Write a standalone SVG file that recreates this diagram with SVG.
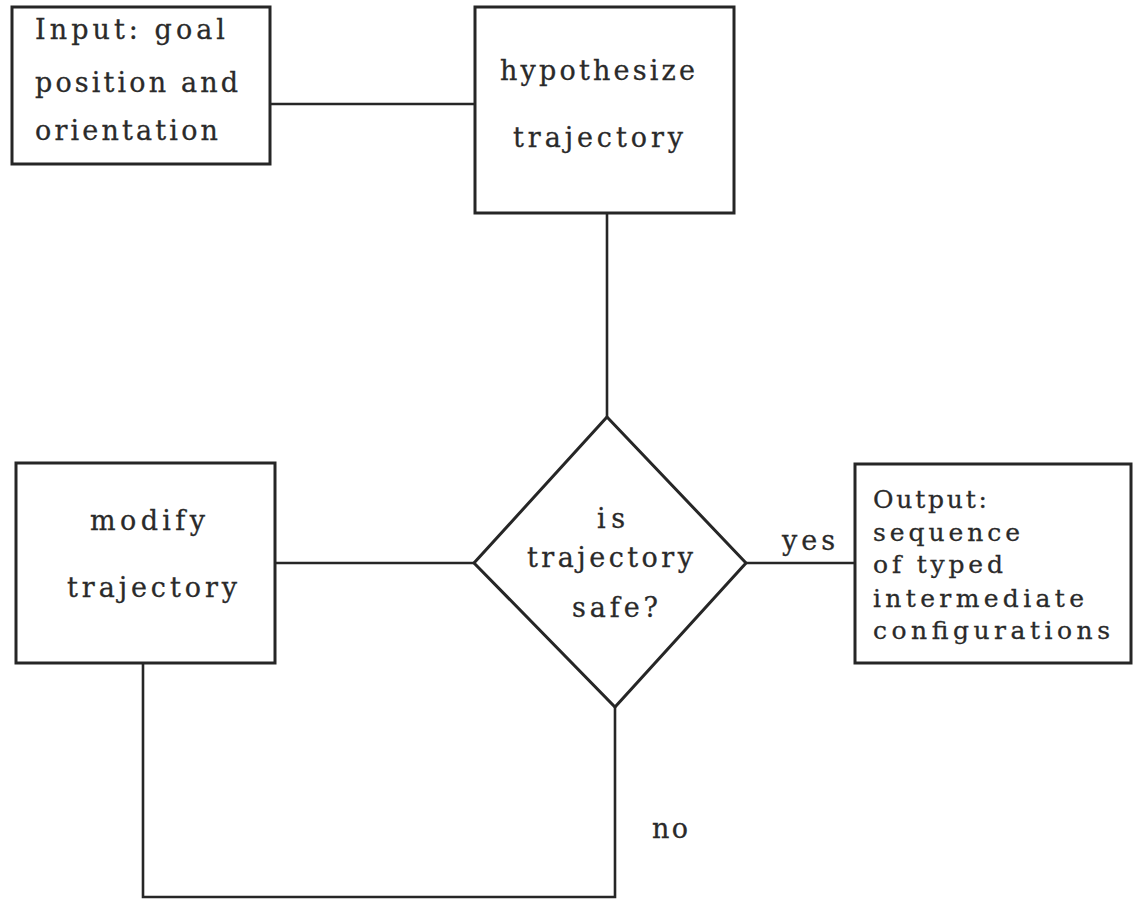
<svg xmlns="http://www.w3.org/2000/svg" width="1139" height="902" viewBox="0 0 1139 902">
<style>
.box{fill:none;stroke:#262626;stroke-width:3}
.ln{fill:none;stroke:#262626;stroke-width:2.6}
.t{font-family:"DejaVu Serif","Liberation Serif",serif;font-size:27px;fill:#2a2a2a;stroke:#2a2a2a;stroke-width:0.3}
.s{font-family:"DejaVu Serif","Liberation Serif",serif;font-size:25px;fill:#2a2a2a;stroke:#2a2a2a;stroke-width:0.3}
</style>
<rect width="1139" height="902" fill="#ffffff"/>
<g id="connectors">
<line class="ln" x1="270" y1="104" x2="475" y2="104"/>
<line class="ln" x1="607" y1="213" x2="607" y2="417"/>
<line class="ln" x1="474" y1="563" x2="275" y2="563"/>
<line class="ln" x1="746" y1="563" x2="855" y2="563"/>
<polyline class="ln" points="615,707 615,897 143,897 143,663"/>
<text class="t" x="782" y="550" textLength="53" lengthAdjust="spacing">yes</text>
<text class="t" x="652" y="838" textLength="36" lengthAdjust="spacing">no</text>
</g>
<g id="input">
<rect class="box" x="12" y="7" width="258" height="157"/>
<text class="t" x="35" y="39" textLength="190" lengthAdjust="spacing">Input:  goal</text>
<text class="t" x="35" y="92" textLength="203" lengthAdjust="spacing">position and</text>
<text class="t" x="35" y="140" textLength="183" lengthAdjust="spacing">orientation</text>
</g>
<g id="hypothesize">
<rect class="box" x="475" y="7" width="259" height="206"/>
<text class="t" x="500" y="80" textLength="195" lengthAdjust="spacing">hypothesize</text>
<text class="t" x="513" y="147" textLength="170" lengthAdjust="spacing">trajectory</text>
</g>
<g id="decision">
<polygon class="box" points="607,417 746,563 615,707 474,563"/>
<text class="t" x="597" y="528" textLength="28" lengthAdjust="spacing">is</text>
<text class="t" x="527" y="567" textLength="166" lengthAdjust="spacing">trajectory</text>
<text class="t" x="572" y="617" textLength="86" lengthAdjust="spacing">safe?</text>
</g>
<g id="modify">
<rect class="box" x="16" y="463" width="259" height="200"/>
<text class="t" x="90" y="530" textLength="115" lengthAdjust="spacing">modify</text>
<text class="t" x="67" y="597" textLength="170" lengthAdjust="spacing">trajectory</text>
</g>
<g id="output">
<rect class="box" x="855" y="464" width="276" height="199"/>
<text class="s" x="873" y="508" textLength="114" lengthAdjust="spacing">Output:</text>
<text class="s" x="873" y="541" textLength="147" lengthAdjust="spacing">sequence</text>
<text class="s" x="873" y="573" textLength="130" lengthAdjust="spacing">of typed</text>
<text class="s" x="873" y="607" textLength="211" lengthAdjust="spacing">intermediate</text>
<text class="s" x="873" y="639" textLength="237" lengthAdjust="spacing">configurations</text>
</g>
</svg>
